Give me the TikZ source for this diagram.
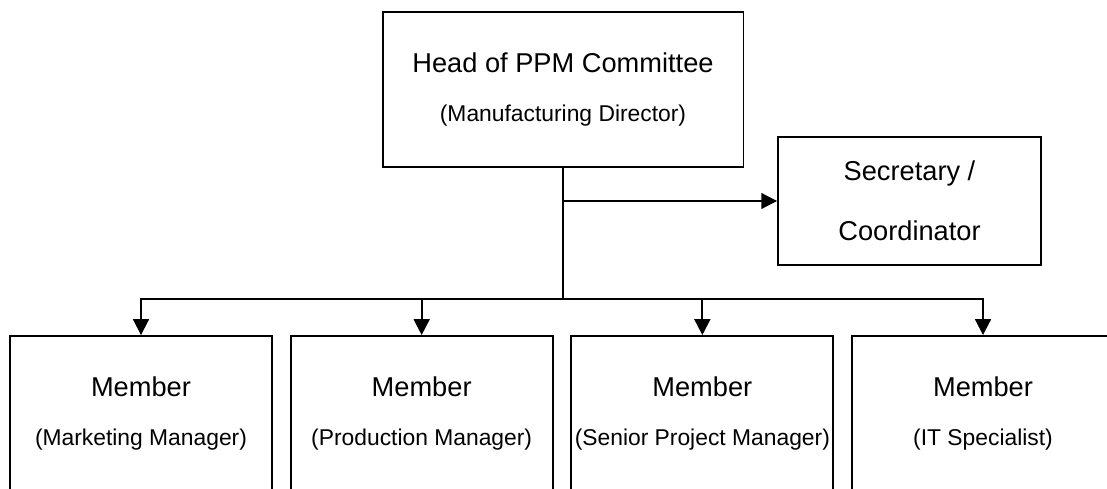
\documentclass[tikz,border=0pt]{standalone}
\usepackage{fontspec}
\setmainfont{Liberation Sans}
\usetikzlibrary{arrows.meta}

\newcommand{\bigline}{\fontsize{15.5}{18}\selectfont}
\newcommand{\smallline}{\fontsize{13}{16}\selectfont}

\begin{document}
\begin{tikzpicture}[x=0.02cm, y=-0.02cm, line width=1.1pt,
  >={Triangle[length=9pt,width=9pt]},
  every box/.style={draw, inner sep=0pt, align=center},
  head box/.style={minimum width=7.22cm, minimum height=3.1cm},
  member box/.style={minimum width=5.24cm, minimum height=3.1cm}]

\clip (0,0) rectangle (1107,489);

\node [every box, head box] (head) at (563,89.5)
  {\bigline Head of PPM Committee\\[16pt]\smallline (Manufacturing Director)};

\node [every box, minimum width=5.26cm, minimum height=2.56cm] (secretary) at (909.5,201)
  {\bigline Secretary /\\[18.5pt]\bigline Coordinator};

\foreach \l [count=\i from 0] in {Marketing Manager, Production Manager, Senior Project Manager, IT Specialist}
  \node [every box, member box] (member-\i) at (141+\i*280.67,413.5)
    {\bigline Member\\[15.5pt]\smallline (\l)};

\path (head.south) ++(0,131) coordinate (hub);
\draw (head.south) -- (hub);

\draw [->] (head.south |- secretary.west) -- (secretary.west);

\foreach \i in {0,...,3}
  \draw [->] (hub) -| (member-\i.north);

\end{tikzpicture}
\end{document}
